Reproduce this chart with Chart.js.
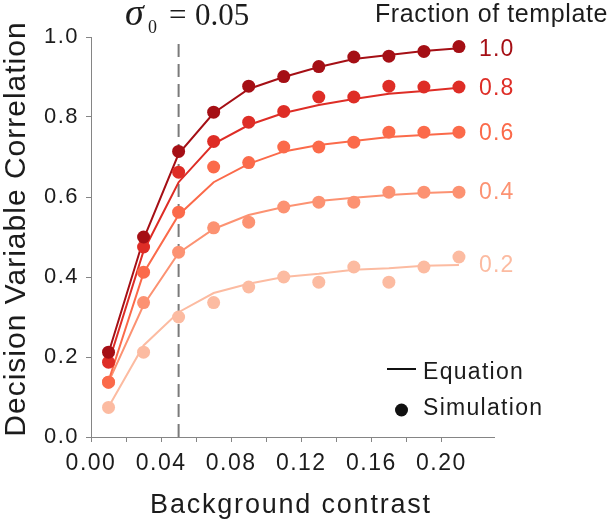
<!DOCTYPE html>
<html>
<head>
<meta charset="utf-8">
<script src="https://cdn.jsdelivr.net/npm/chart.js@4.4.1/dist/chart.umd.min.js"></script>
<style>
  html, body { margin: 0; padding: 0; background: #fff; }
  #wrap { width: 609px; height: 526px; }
</style>
</head>
<body>
<div id="wrap"><canvas id="chart" width="609" height="526"></canvas></div>
<script>
// background contrast values (x) shared by all series
const contrast = [0.01, 0.03, 0.05, 0.07, 0.09, 0.11, 0.13, 0.15, 0.17, 0.19, 0.21];
const fractions = ['1.0', '0.8', '0.6', '0.4', '0.2'];
const colors = ['#a50f15', '#de2d26', '#fb6a4a', '#fc9272', '#fcbba1'];

// Simulation dots, one array per fraction of template
const sim10 = [0.212, 0.500, 0.714, 0.812, 0.877, 0.901, 0.926, 0.950, 0.952, 0.964, 0.976];
const sim08 = [0.187, 0.475, 0.662, 0.739, 0.787, 0.814, 0.850, 0.850, 0.877, 0.875, 0.875];
const sim06 = [0.137, 0.412, 0.562, 0.675, 0.686, 0.725, 0.725, 0.737, 0.762, 0.762, 0.762];
const sim04 = [0.137, 0.336, 0.462, 0.523, 0.537, 0.575, 0.587, 0.587, 0.612, 0.612, 0.612];
const sim02 = [0.074, 0.212, 0.300, 0.336, 0.375, 0.400, 0.387, 0.425, 0.387, 0.425, 0.450];

// Equation curves
const eq10 = [0.210, 0.495, 0.708, 0.810, 0.870, 0.900, 0.925, 0.945, 0.955, 0.965, 0.972];
const eq08 = [0.185, 0.465, 0.637, 0.733, 0.780, 0.810, 0.830, 0.845, 0.858, 0.865, 0.873];
const eq06 = [0.140, 0.410, 0.555, 0.637, 0.683, 0.714, 0.730, 0.740, 0.750, 0.755, 0.760];
const eq04 = [0.137, 0.330, 0.460, 0.520, 0.555, 0.575, 0.590, 0.598, 0.605, 0.610, 0.613];
const eq02 = [0.075, 0.229, 0.312, 0.360, 0.383, 0.400, 0.408, 0.418, 0.422, 0.428, 0.430];

const sigma0 = 0.05;

const simSeries = [sim10, sim08, sim06, sim04, sim02];
const eqSeries = [eq10, eq08, eq06, eq04, eq02];

const sans = "'Liberation Sans', Arial, Helvetica, sans-serif";
const serif = "'Liberation Serif', 'Times New Roman', serif";
const textColor = '#1c1c1c';
const axisColor = '#858585';

const toPoints = ys => ys.map((v, i) => ({ x: contrast[i], y: v }));

const datasets = [];
eqSeries.forEach((ys, i) => {
    datasets.push({
        label: 'Equation ' + fractions[i],
        data: toPoints(ys),
        borderColor: colors[i],
        borderWidth: 2,
        pointRadius: 0,
        tension: 0,
        clip: false,
        order: 10 + i
    });
});
simSeries.forEach((ys, i) => {
    datasets.push({
        label: 'Simulation ' + fractions[i],
        data: toPoints(ys),
        showLine: false,
        backgroundColor: colors[i],
        borderWidth: 0,
        pointRadius: 6.5,
        pointBorderWidth: 0,
        clip: false,
        order: i
    });
});
// sigma_0 marker
datasets.push({
    label: 'sigma0',
    data: [{ x: sigma0, y: 0 }, { x: sigma0, y: 1 }],
    borderColor: '#7a7a7a',
    borderWidth: 2,
    borderDash: [13, 7],
    pointRadius: 0,
    order: 30
});

const textPlugin = {
    id: 'textPlugin',
    beforeLayout(chart) { chart.ctx.letterSpacing = '1.5px'; },
    beforeDraw(chart) { chart.ctx.letterSpacing = '1.5px'; },
    afterDraw(chart) {
        const ctx = chart.ctx;
        const xs = chart.scales.x, ys = chart.scales.y;
        ctx.save();
        ctx.fillStyle = textColor;
        ctx.textBaseline = 'alphabetic';

        // axis titles
        ctx.font = `27px ${sans}`;
        ctx.letterSpacing = '1.8px';
        ctx.textAlign = 'center';
        ctx.fillText('Background contrast', 291, 513);

        ctx.save();
        ctx.translate(25, 229);
        ctx.rotate(-Math.PI / 2);
        ctx.font = `30px ${sans}`;
        ctx.letterSpacing = '1px';
        ctx.fillText('Decision Variable Correlation', 0, 0);
        ctx.restore();

        // sigma_0 = 0.05
        ctx.textAlign = 'left';
        ctx.letterSpacing = '0px';
        ctx.font = `italic 38px ${serif}`;
        ctx.fillText('\u03c3', 125, 25);
        ctx.font = `18px ${serif}`;
        ctx.fillText('0', 148, 33);
        ctx.font = `31px ${serif}`;
        ctx.fillText('=', 169, 25);
        ctx.fillText('0.05', 195, 25);

        // fraction labels
        ctx.font = `25px ${sans}`;
        ctx.letterSpacing = '0.6px';
        ctx.fillText('Fraction of template', 375, 22);

        ctx.font = `23px ${sans}`;
        ctx.letterSpacing = '1.2px';
        ctx.textBaseline = 'middle';
        const lx = xs.getPixelForValue(contrast[contrast.length - 1]) + 20;
        eqSeries.forEach((s, i) => {
            ctx.fillStyle = colors[i];
            ctx.fillText(fractions[i], lx, ys.getPixelForValue(s[s.length - 1]) + 1);
        });

        // legend
        ctx.fillStyle = '#111';
        ctx.strokeStyle = '#111';
        ctx.lineWidth = 2;
        ctx.beginPath();
        ctx.moveTo(387, 369);
        ctx.lineTo(416, 369);
        ctx.stroke();
        ctx.beginPath();
        ctx.arc(401.5, 410, 6.5, 0, Math.PI * 2);
        ctx.fill();
        ctx.fillStyle = textColor;
        ctx.textBaseline = 'alphabetic';
        ctx.letterSpacing = '1.3px';
        ctx.fillText('Equation', 423, 379);
        ctx.fillText('Simulation', 423, 415);
        ctx.restore();
    }
};

new Chart(document.getElementById('chart'), {
    type: 'line',
    data: { datasets },
    options: {
        responsive: false,
        animation: false,
        layout: { padding: { top: 37, right: 115, left: 0, bottom: 0 } },
        plugins: { legend: { display: false }, tooltip: { enabled: false } },
        scales: {
            x: {
                type: 'linear',
                min: 0,
                max: 0.23,
                afterBuildTicks: s => { s.ticks = s.ticks.filter(t => t.value <= 0.201); },
                afterFit: s => { s.height = 89; },
                ticks: {
                    stepSize: 0.02,
                    autoSkip: false,
                    maxRotation: 0,
                    padding: 8,
                    color: textColor,
                    font: { size: 23, family: sans },
                    callback: v => Math.round(v * 100) % 4 === 0 ? v.toFixed(2) : ''
                },
                grid: { drawOnChartArea: false, drawTicks: true, tickLength: 5, color: axisColor },
                border: { color: axisColor, width: 1 }
            },
            y: {
                min: 0,
                max: 1,
                afterFit: s => { s.width = 91; },
                ticks: {
                    stepSize: 0.2,
                    padding: 7,
                    color: textColor,
                    font: { size: 22, family: sans },
                    callback: v => v.toFixed(1)
                },
                grid: { drawOnChartArea: false, drawTicks: true, tickLength: 5, color: axisColor },
                border: { color: axisColor, width: 1 }
            }
        }
    },
    plugins: [textPlugin]
});
</script>
</body>
</html>
